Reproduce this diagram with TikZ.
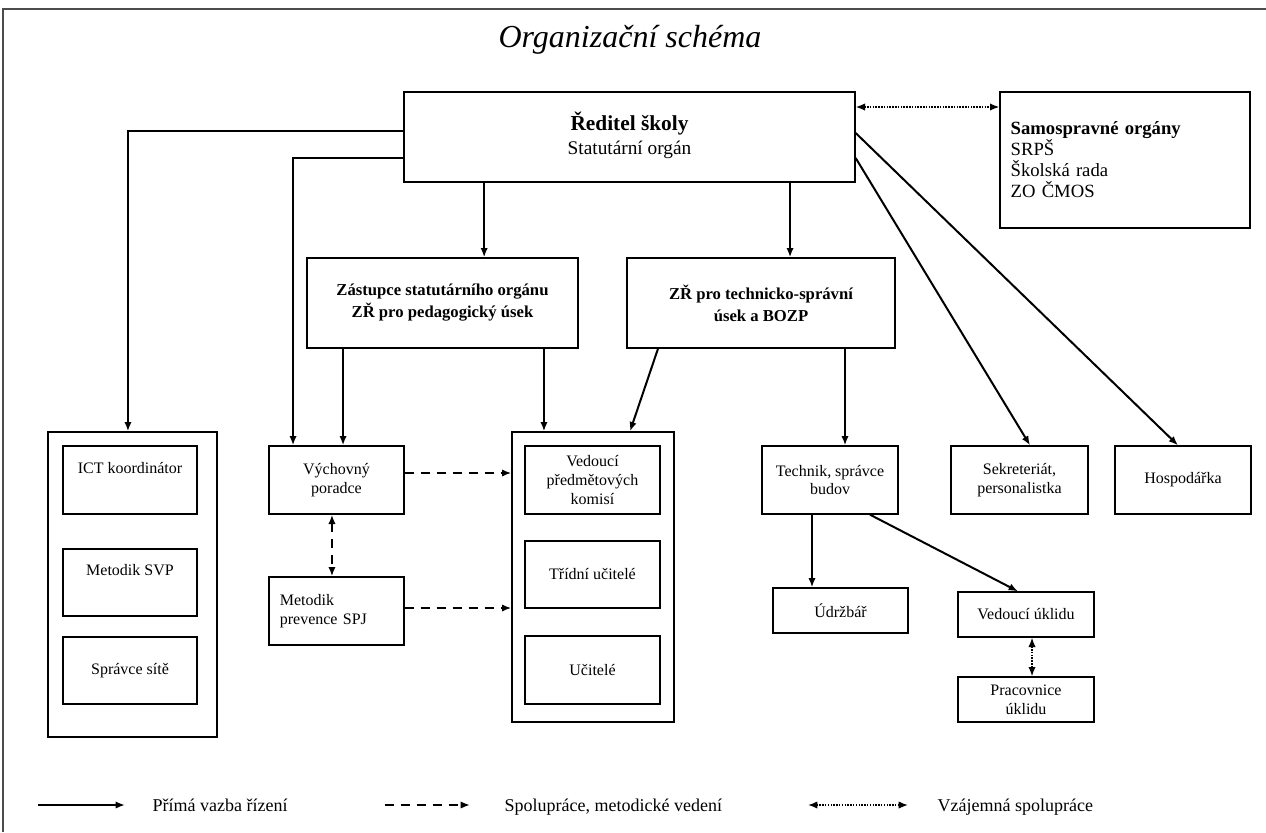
\documentclass[tikz,border=0pt]{standalone}
\usepackage{fontspec}
\setmainfont{Liberation Serif}
\usetikzlibrary{positioning,arrows.meta,calc}
\tikzset{>={Latex[length=7pt,width=5.5pt]}}

\begin{document}
\begin{tikzpicture}[x=0.75pt, y=-0.75pt,
    box/.style 2 args={draw, line width=1pt, minimum width=#1*0.75pt, minimum height=#2*0.75pt,
      inner sep=2pt, align=center, font=\fontsize{12}{14}\selectfont},
    direct/.style={->, line width=1.5pt},
    coop/.style={->, line width=1.5pt, dash pattern=on 7pt off 5pt},
    mutual/.style={<->, line width=1.1pt, densely dotted},
    legend/.style={anchor=base west, font=\fontsize{13.5}{16}\selectfont}]
  \useasboundingbox (0,0) rectangle (1266,832);
  \draw[line width=1.5pt, black!70] (3,832) -- (3,9) -- (1266,9); % page frame

  \node[font=\fontsize{24}{28}\selectfont\itshape] (title) at (630,40) {Organizační schéma};

  % top level
  \node[box={451}{90}, font=\fontsize{14.5}{18}\selectfont, text depth=6pt] (reditel) at (629.5,137)
    {{\bfseries\fontsize{16}{18}\selectfont Ředitel školy}\\Statutární orgán};
  \node[box={250}{136}, font=\fontsize{14}{15.75}\selectfont, align=left, text width=171.5pt, inner xsep=8pt]
    (samosprava) at (1125,160)
    {\textbf{Samospravné orgány}\\SRPŠ\\Školská rada\\ZO ČMOS};
  \node[box={271}{90}, font=\bfseries\fontsize{12.5}{16.5}\selectfont] (zastupce) at (442.5,303)
    {Zástupce statutárního orgánu\\ZŘ pro pedagogický úsek};
  \node[box={268}{90}, font=\bfseries\fontsize{12.5}{16.5}\selectfont] (technicky) at (761,303)
    {ZŘ pro technicko-správní\\úsek a BOZP};

  % left group
  \node[box={169}{305}] (leftgrp) at (132.5,584.5) {};
  \node[box={134}{68}, label={[yshift=9pt, font=\fontsize{12}{14}\selectfont]center:ICT koordinátor}] (ict) at (130,480) {};
  \node[box={134}{67}, label={[yshift=9.4pt, font=\fontsize{12}{14}\selectfont]center:Metodik SVP}] (svp) at (130,582.5) {};
  \node[box={134}{67}] (spravce) at (130,670.5) {Správce sítě};

  % pedagogical part
  \node[box={135}{68}] (vychovny) at (336.5,480) {Výchovný\\poradce};
  \node[box={135}{68}, align=left, text width=85pt, inner xsep=8pt] (prevence) at (336.5,611) {Metodik\\prevence SPJ};
  \node[box={162}{290}] (midgrp) at (593,577) {};
  \node[box={135}{68}] (komise) at (592.5,480) {Vedoucí\\předmětových\\komisí};
  \node[box={135}{67}] (tridni) at (592.5,574.5) {Třídní učitelé};
  \node[box={135}{68}] (ucitele) at (592.5,670) {Učitelé};

  % technical part
  \node[box={136}{68}] (technik) at (830,480) {Technik, správce\\budov};
  \node[box={137}{68}] (sekretariat) at (1019.5,480) {Sekreteriát,\\personalistka};
  \node[box={136}{68}] (hospodarka) at (1183,480) {Hospodářka};
  \node[box={135}{45}] (udrzbar) at (840.5,610.5) {Údržbář};
  \node[box={136}{45}] (uklid) at (1026,614.5) {Vedoucí úklidu};
  \node[box={136}{45}] (pracovnice) at (1026,699.5) {Pracovnice\\úklidu};

  % direct links
  \draw[direct] ([yshift=4.5pt]reditel.west) -| ([xshift=-3.4pt]leftgrp.north);
  \draw[direct] ([yshift=-15.75pt]reditel.west) -| ([xshift=-32.6pt]vychovny.north);
  \draw[direct] ([xshift=-109pt]reditel.south) -- ([xshift=-109pt]reditel.south |- zastupce.north);
  \draw[direct] ([xshift=120.4pt]reditel.south) -- ([xshift=120.4pt]reditel.south |- technicky.north);
  \draw[direct] ([yshift=3pt]reditel.east) -- ([xshift=-3.75pt]hospodarka.north);
  \draw[direct] ([yshift=-15.75pt]reditel.east) -- ([xshift=7.9pt]sekretariat.north);
  \draw[direct] ([xshift=-74.6pt]zastupce.south) -- ([xshift=-74.6pt]zastupce.south |- vychovny.north);
  \draw[direct] ([xshift=76.1pt]zastupce.south) -- ([xshift=76.1pt]zastupce.south |- midgrp.north);
  \draw[direct] ([xshift=-77.25pt]technicky.south) -- ([xshift=27.75pt]midgrp.north);
  \draw[direct] ([xshift=63pt]technicky.south) -- ([xshift=63pt]technicky.south |- technik.north);
  \draw[direct] ([xshift=-13.5pt]technik.south) -- ([xshift=-13.5pt]technik.south |- udrzbar.north);
  \draw[direct] ([xshift=30pt]technik.south) -- ([xshift=-6pt]uklid.north);

  % cooperation
  \draw[coop] ([yshift=5.25pt]vychovny.east) -- ([yshift=5.25pt]vychovny.east -| midgrp.west);
  \draw[coop] ([yshift=2.25pt]prevence.east) -- ([yshift=2.25pt]prevence.east -| midgrp.west);
  \draw[coop, <->] ([xshift=-3.4pt]vychovny.south) -- ([xshift=-3.4pt]vychovny.south |- prevence.north);
  \draw[mutual] ([yshift=22.5pt]reditel.east) -- ([yshift=22.5pt]reditel.east -| samosprava.west);
  \draw[mutual] ([xshift=4.5pt]uklid.south) -- ([xshift=4.5pt]uklid.south |- pracovnice.north);

  % legend
  \coordinate (leg1a) at (38,805);
  \coordinate (leg1b) at (125,805);
  \coordinate (leg2a) at (385,805);
  \coordinate (leg2b) at (470,805);
  \coordinate (leg3a) at (808,805);
  \coordinate (leg3b) at (908,805);
  \draw[direct] (leg1a) -- (leg1b);
  \draw[coop] (leg2a) -- (leg2b);
  \draw[mutual] (leg3a) -- (leg3b);
  \node[legend] (legtext1) at (148,811) {Přímá vazba řízení};
  \node[legend] (legtext2) at (500,811) {Spolupráce, metodické vedení};
  \node[legend] (legtext3) at (933,811) {Vzájemná spolupráce};
\end{tikzpicture}
\end{document}
